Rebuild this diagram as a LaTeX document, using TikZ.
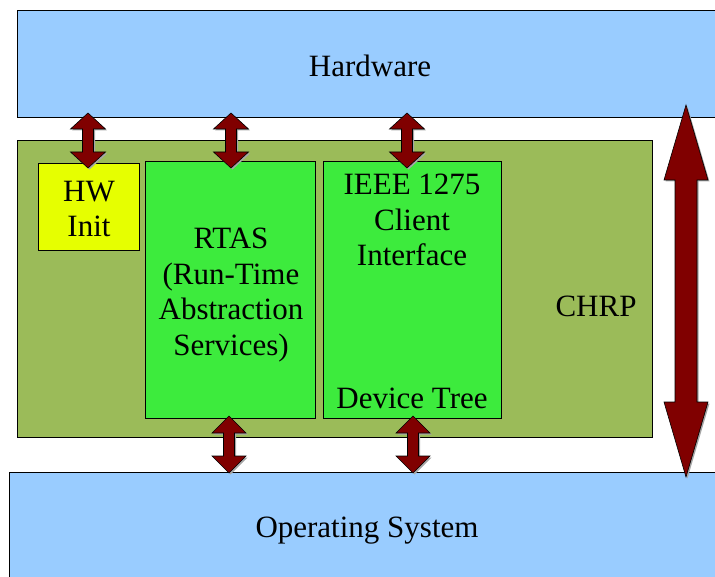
\documentclass[tikz,border=0pt]{standalone}
\usepackage{fontspec}
\setmainfont{Liberation Serif}
\newfontfamily\boxface{Liberation Serif}
\definecolor{hwblue}{HTML}{99CCFF}
\definecolor{chrpgreen}{HTML}{9BBB59}
\definecolor{compgreen}{HTML}{3DEB3D}
\definecolor{inityellow}{HTML}{E6FF00}
\definecolor{arrowred}{HTML}{800000}
\tikzset{
  panel/.style={draw=black, line width=1pt, inner sep=0pt, outer sep=0pt},
  boxtext/.style={font=\boxface\fontsize{31}{35.5}\selectfont, align=center, inner sep=0pt},
  arrowbody/.style={fill=arrowred, draw=black, line width=0.6pt, line join=miter},
  arrowshade/.style={fill=black!35, draw=none},
}
% vertical double-headed block arrow:
% #1 centre x, #2 top y, #3 bottom y, #4 half head width, #5 head length, #6 half shaft width
\newcommand\vdarrow[6]{%
  \foreach \st/\dx in {arrowshade/1.5, arrowbody/0}{
    \path[\st] ({#1+\dx},{#2+\dx}) -- ({#1+#4+\dx},{#2+#5+\dx}) -- ({#1+#6+\dx},{#2+#5+\dx})
      -- ({#1+#6+\dx},{#3-#5+\dx}) -- ({#1+#4+\dx},{#3-#5+\dx}) -- ({#1+\dx},{#3+\dx})
      -- ({#1-#4+\dx},{#3-#5+\dx}) -- ({#1-#6+\dx},{#3-#5+\dx}) -- ({#1-#6+\dx},{#2+#5+\dx})
      -- ({#1-#4+\dx},{#2+#5+\dx}) -- cycle;
  }%
}
\begin{document}
\begin{tikzpicture}[x=1pt,y=-1pt]
\useasboundingbox (0,0) rectangle (715,577);
\clip (0,0) rectangle (715,577);

% layers
\node[panel, fill=hwblue, minimum width=718pt, minimum height=107pt] (hw) at (376,64.5) {};
\node[panel, fill=hwblue, minimum width=721pt, minimum height=128pt] (os) at (369.5,536) {};
\node[panel, fill=chrpgreen, minimum width=635pt, minimum height=296pt] (chrp) at (334.5,289) {};

% firmware components
\node[panel, fill=inityellow, minimum width=101pt, minimum height=87pt] (init) at (88.5,207.5) {};
\node[panel, fill=compgreen, minimum width=170pt, minimum height=256pt] (rtas) at (230,290) {};
\node[panel, fill=compgreen, minimum width=178pt, minimum height=256pt] (ieee) at (412,290) {};

% labels
\node[boxtext] (hwtext) at (370,66) {Hardware};
\node[boxtext] (ostext) at (367,531) {Operating System};
\node[boxtext] (chrptext) at (596,306) {CHRP};
\node[boxtext] (inittext) at (89,209) {HW\\Init};
\node[boxtext] (rtastext) at (231,295) {RTAS\\(Run-Time\\Abstraction\\Services)};
\node[boxtext] (ieeetext) at (412,220) {IEEE 1275\\Client\\Interface};
\node[boxtext] (dttext) at (412,398) {Device Tree};

% interface arrows
\vdarrow{88}{113}{168}{17.5}{16}{5.5}
\vdarrow{231}{113}{168}{17.5}{16}{5.5}
\vdarrow{407}{113}{168}{17.5}{16}{5.5}
\vdarrow{229}{416}{473}{17}{17}{5.5}
\vdarrow{413}{416}{473}{17}{17}{5.5}
\vdarrow{686}{105}{477}{22}{75}{11}
\end{tikzpicture}
\end{document}
